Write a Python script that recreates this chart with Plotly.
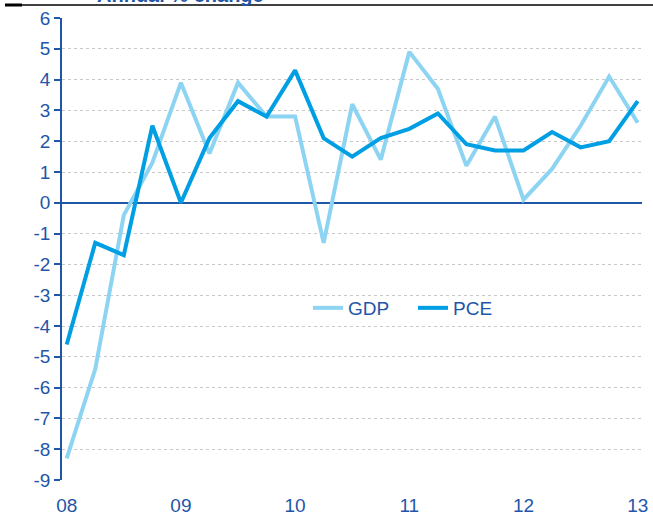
import plotly.graph_objects as go

quarters = list(range(21))  # 2008Q1 .. 2013Q1
gdp = [-8.3, -5.4, -0.4, 1.3, 3.9, 1.6, 3.9, 2.8, 2.8, -1.3, 3.2, 1.4, 4.9, 3.7, 1.2, 2.8, 0.1, 1.1, 2.5, 4.1, 2.6]
pce = [-4.6, -1.3, -1.7, 2.5, 0.0, 2.1, 3.3, 2.8, 4.3, 2.1, 1.5, 2.1, 2.4, 2.9, 1.9, 1.7, 1.7, 2.3, 1.8, 2.0, 3.3]
x_tickvals = [0, 4, 8, 12, 16, 20]
x_ticktext = ["08", "09", "10", "11", "12", "13"]
y_ticks = list(range(-9, 7))
y_ticktext = [str(v) for v in y_ticks]

DARK = "#1F56A8"
W, H = 653, 517
L, R, T, B = 62, 11, 18, 37
PW, PH = W - L - R, H - T - B

fig = go.Figure()
fig.add_trace(go.Scatter(x=quarters, y=gdp, mode="lines", name="GDP",
                         line=dict(color="#8DD4F3", width=4)))
fig.add_trace(go.Scatter(x=quarters, y=pce, mode="lines", name="PCE",
                         line=dict(color="#009FE3", width=4)))

fig.update_layout(
    width=W, height=H,
    margin=dict(l=L, r=R, t=T, b=B, pad=0, autoexpand=False),
    paper_bgcolor="white", plot_bgcolor="white",
    font=dict(family="Liberation Sans, Arial", size=19, color=DARK),
    showlegend=True,
    legend=dict(orientation="h", x=(308 - L) / PW, y=(H - B - 308) / PH,
                xanchor="left", yanchor="middle", bgcolor="rgba(0,0,0,0)",
                font=dict(size=19, color=DARK), itemwidth=30,
                entrywidth=60, entrywidthmode="pixels",
                tracegroupgap=0),
    xaxis=dict(range=[-0.165, 20.15], tickvals=x_tickvals, ticktext=x_ticktext,
               showgrid=False, zeroline=False, showline=False,
               ticks="outside", ticklen=8, tickcolor="rgba(0,0,0,0)",
               automargin=False,
               tickfont=dict(size=19, color=DARK)),
    yaxis=dict(range=[-9, 6], tickvals=y_ticks, ticktext=y_ticktext, showgrid=True,
               gridcolor="#C8C8C8", griddash="dot", gridwidth=1,
               zeroline=True, zerolinecolor=DARK, zerolinewidth=1.5,
               showline=True, linecolor=DARK, linewidth=1.5,
               ticks="outside", ticklen=6, tickcolor=DARK, tickwidth=1.5,
               automargin=False,
               tickfont=dict(size=19, color=DARK)),
)

# top rule
fig.add_shape(type="line", xref="paper", yref="paper",
              x0=(5 - L) / PW, x1=(W - L) / PW, y0=1 + (T - 5) / PH, y1=1 + (T - 5) / PH,
              line=dict(color="black", width=1.5))
fig.add_shape(type="line", xref="paper", yref="paper",
              x0=(5 - L) / PW, x1=(22 - L) / PW, y0=1 + (T - 5) / PH, y1=1 + (T - 5) / PH,
              line=dict(color="black", width=3))
fig.add_annotation(text="<b>Annual % change</b>", xref="paper", yref="paper",
                   x=(95 - L) / PW, y=1 + (T - 8) / PH, xanchor="left", yanchor="bottom",
                   showarrow=False, font=dict(size=20, color=DARK))

fig.write_html("out.html", config={"displayModeBar": False},
               post_script="document.body.style.margin='0';document.body.style.overflow='hidden';")
